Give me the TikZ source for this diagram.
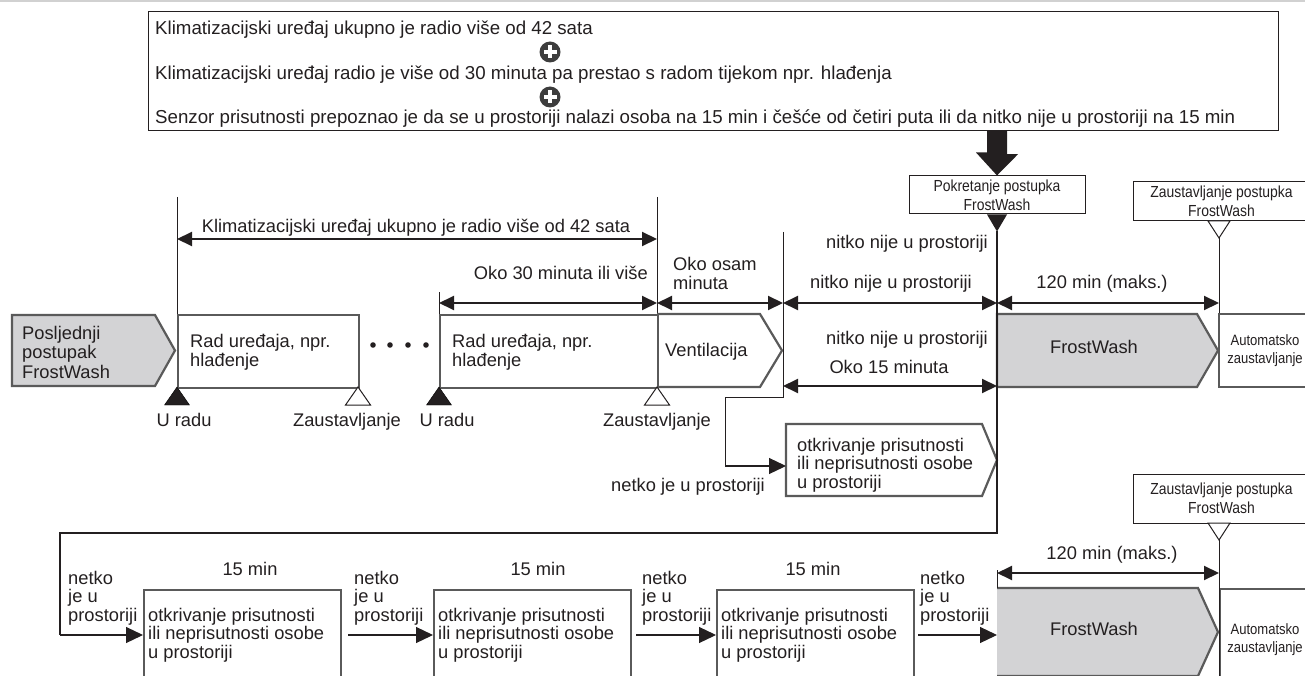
\documentclass[tikz,border=0pt]{standalone}
\usepackage{fontspec}
\setmainfont{Liberation Sans}
\newfontfamily\narrowf[FakeStretch=0.87]{Liberation Sans}
\usetikzlibrary{arrows.meta,calc}
\definecolor{boxgray}{HTML}{5A5A5A}
\definecolor{fillgray}{HTML}{D3D3D5}
\definecolor{ink}{HTML}{231F20}
\definecolor{plusgray}{HTML}{3D3D3D}
\begin{document}
\begin{tikzpicture}[x=1pt,y=-1pt,
  txt/.style={inner sep=0pt, font=\fontsize{18.3}{18.5}\selectfont, text=ink, align=left},
  toptxt/.style={inner sep=0pt, font=\fontsize{18.7}{19}\selectfont, text=ink},
  ntxt/.style={inner sep=0pt, font=\narrowf\fontsize{16}{19}\selectfont, text=ink, align=center},
  stxt/.style={inner sep=0pt, font=\narrowf\fontsize{15}{18.5}\selectfont, text=ink, align=center},
  boxline/.style={draw=boxgray, line width=2.2pt},
  grayshape/.style={draw=boxgray, line width=2.2pt, fill=fillgray},
  thinline/.style={draw=ink, line width=1pt},
  dimarrow/.style={draw=ink, line width=2pt, {Triangle[length=15pt,width=14pt]}-{Triangle[length=15pt,width=14pt]}},
  flowarrow/.style={draw=ink, line width=1.2pt, -{Triangle[length=17pt,width=16pt]}},
  runmark/.style={fill=ink},
  stopmark/.style={fill=white, draw=ink, line width=1pt}
]
\useasboundingbox (0,0) rectangle (1305,676);
\clip (0,0) rectangle (1305,676);
\draw[draw=black!18, line width=2pt] (0,1) -- (1305,1);

% ---------- conditions box ----------
\node[draw=ink, line width=1.2pt, minimum width=1130pt, minimum height=119pt, anchor=north west, inner sep=0pt] (cond) at (148,11) {};
\node[toptxt, anchor=base west] (c1) at (155,35) {Klimatizacijski uređaj ukupno je radio više od 42 sata};
\node[toptxt, anchor=base west] (c2) at (155,80) {Klimatizacijski uređaj radio je više od 30 minuta pa prestao s radom tijekom npr. hlađenja};
\node[toptxt, anchor=base west] (c3) at (155,124) {Senzor prisutnosti prepoznao je da se u prostoriji nalazi osoba na 15 min i češće od četiri puta ili da nitko nije u prostoriji na 15 min};
\foreach \py/\nm in {52/plusA, 97/plusB}{
  \coordinate (\nm) at (550,\py);
  \fill[plusgray] (\nm) circle (10.5);
  \fill[white] ($(\nm)+(-6.5,-2.3)$) rectangle ($(\nm)+(6.5,2.3)$);
  \fill[white] ($(\nm)+(-2.3,-6.5)$) rectangle ($(\nm)+(2.3,6.5)$);
}

% ---------- start FrostWash ----------
\node[draw=ink, line width=1pt, minimum width=176pt, minimum height=38pt, inner sep=0pt, ntxt] (startbox) at (997,195) {Pokretanje postupka\\FrostWash};
\fill[ink] (cond.south -| startbox.north) ++(-10,0) -- ++(20,0) -- ++(0,23) -- ++(11,0) -- (startbox.north) -- ++(-21,-23) -- ++(11,0) -- cycle;
\coordinate (startmk) at ($(startbox.south)+(0,17)$);
\fill[ink] (startbox.south) ++(-10,0) -- ++(20,0) -- (startmk) -- cycle;

% ---------- stop FrostWash (upper) ----------
\node[draw=ink, line width=1pt, minimum width=177pt, minimum height=39pt, inner sep=0pt, ntxt] (stopA) at (1221.5,201.5) {Zaustavljanje postupka\\FrostWash};
\coordinate (stopAmk) at (1219,238);
\draw[stopmark] (1208,221) -- (1230,221) -- (stopAmk) -- cycle;

% ---------- vertical reference lines ----------
\coordinate (vA) at (177,197);
\coordinate (vB) at (657,197);
\coordinate (vC) at (439,292);
\coordinate (vD) at (783,232);
\draw[thinline] (vA) -- (177,314);
\draw[thinline] (vB) -- (657,314);
\draw[thinline] (vC) -- (439,314);
\draw[thinline] (stopAmk) -- (1219,314);

% ---------- dimension arrows (upper) ----------
\draw[dimarrow] (177,239) -- (657,239);
\node[txt, anchor=base] (d42) at (416,233) {Klimatizacijski uređaj ukupno je radio više od 42 sata};
\node[txt, anchor=base east] (d30) at (648,279) {Oko 30 minuta ili više};
\node[txt, anchor=base west] (d8) at (673,289) {Oko osam\\minuta};
\draw[dimarrow] (439,303) -- (657,303);
\draw[dimarrow] (657,303) -- (783,303);
\draw[dimarrow] (783,303) -- (997,303);
\draw[dimarrow] (997,303) -- (1219,303);
\node[txt, anchor=base east] (n1) at (988,248) {nitko nije u prostoriji};
\node[txt, anchor=base east] (n2) at (972,288) {nitko nije u prostoriji};
\node[txt, anchor=base] (m120a) at (1102,288) {120 min (maks.)};

% ---------- upper process row ----------
\draw[grayshape] (12,315) -- (155,315) -- (175,350.5) -- (155,386) -- (12,386) -- cycle;
\node[inner sep=0pt, font=\fontsize{18.3}{19.5}\selectfont, text=ink, align=left, anchor=base west] (last) at (22,378) {Posljednji\\postupak\\FrostWash};
\node[boxline, minimum width=181pt, minimum height=73pt, anchor=north west, inner sep=0pt] (op1) at (177,314) {};
\node[txt, anchor=base west] (op1t) at (190,366) {Rad uređaja, npr.\\hlađenje};
\foreach \dx/\nm in {373/dA,390/dB,408/dC,426/dD}{
  \fill[ink] (\dx,345) circle (2.8) coordinate (\nm);
}
\node[boxline, minimum width=218pt, minimum height=73pt, anchor=north west, inner sep=0pt] (op2) at (439,314) {};
\node[txt, anchor=base west] (op2t) at (452,366) {Rad uređaja, npr.\\hlađenje};
\draw[boxline] (657,314) -- (760,314) -- (782,350.5) -- (760,387) -- (657,387);
\node[txt, anchor=base west] (vent) at (665,356) {Ventilacija};

\draw[grayshape] (997,314) -- (1197,314) -- (1218,350.5) -- (1197,387) -- (997,387) -- cycle;
\node[txt, anchor=base] (fwA) at (1094,353) {FrostWash};
\node[boxline, minimum width=92pt, minimum height=73pt, inner sep=0pt, stxt] (autoA) at (1265,350.5) {Automatsko\\zaustavljanje};

% run / stop markers
\draw[runmark] (177,387) -- (189.5,405) -- (164.5,405) -- cycle;
\draw[stopmark] (358,387) -- (370.5,405) -- (345.5,405) -- cycle;
\draw[runmark] (439,387) -- (451.5,405) -- (426.5,405) -- cycle;
\draw[stopmark] (657,387) -- (669.5,405) -- (644.5,405) -- cycle;
\node[txt, anchor=base] (u1) at (184,426) {U radu};
\node[txt, anchor=base] (z1) at (347,426) {Zaustavljanje};
\node[txt, anchor=base] (u2) at (447,426) {U radu};
\node[txt, anchor=base] (z2) at (657,426) {Zaustavljanje};

% ---------- presence detection branch ----------
\node[txt, anchor=base east] (n3) at (988,344) {nitko nije u prostoriji};
\node[txt, anchor=base] (o15) at (889,373) {Oko 15 minuta};
\draw[dimarrow] (783,386) -- (997,386);
\draw[boxline] (786,424) -- (982,424) -- (997,460) -- (982,496) -- (786,496) -- cycle;
\coordinate (det0) at (786,460);
\node[txt, anchor=base west] (det0t) at (797,488) {otkrivanje prisutnosti\\ili neprisutnosti osobe\\u prostoriji};
\draw[thinline] (vD) -- (783,397) -- (725,397) -- (725,466);
\draw[flowarrow] (725,466) -- (786,466);
\node[txt, anchor=base east] (netA) at (765,491) {netko je u prostoriji};

% ---------- loop to lower row ----------
\draw[thinline, line width=1.2pt] (startmk) -- (997,533) -- (60,533) -- (60,635);
\draw[flowarrow] (60,635) -- (143,635);

% ---------- lower row ----------
\foreach \bx/\nm/\cx in {143/det1/250, 433/det2/538, 716/det3/813}{
  \node[boxline, minimum width=197pt, minimum height=100pt, anchor=north west, inner sep=0pt] (\nm) at (\bx,589) {};
  \node[txt, anchor=base west] (\nm t) at (\bx+5,658) {otkrivanje prisutnosti\\ili neprisutnosti osobe\\u prostoriji};
  \node[txt, anchor=base] (\nm m) at (\cx,575) {15 min};
}
\foreach \lx/\nm in {68/pA, 354/pB, 642/pC, 920/pD}{
  \node[txt, anchor=base west] (\nm) at (\lx,621) {netko\\je u\\prostoriji};
}
\draw[flowarrow] (348,635) -- (433,635);
\draw[flowarrow] (636,635) -- (716,635);
\draw[flowarrow] (918,635) -- (997,635);

\draw[grayshape] (997,588) -- (1198,588) -- (1218,632) -- (1198,676) -- (997,676);
\node[txt, anchor=base] (fwB) at (1094,635) {FrostWash};
\node[boxline, minimum width=92pt, minimum height=100pt, anchor=north west, inner sep=0pt] (autoB) at (1219,588) {};
\node[stxt, anchor=base] (autoBt) at (1265,652.5) {Automatsko\\zaustavljanje};

\node[draw=ink, line width=1pt, minimum width=177pt, minimum height=49pt, inner sep=0pt, ntxt] (stopB) at (1221.5,498.5) {Zaustavljanje postupka\\FrostWash};
\coordinate (stopBmk) at (1219,540);
\draw[stopmark] (1208,523) -- (1230,523) -- (stopBmk) -- cycle;
\draw[thinline] (stopBmk) -- (1219,676);
\draw[thinline] (997,570) -- (997,588);
\draw[dimarrow] (997,573) -- (1219,573);
\node[txt, anchor=base] (m120b) at (1112,559) {120 min (maks.)};
\end{tikzpicture}
\end{document}
